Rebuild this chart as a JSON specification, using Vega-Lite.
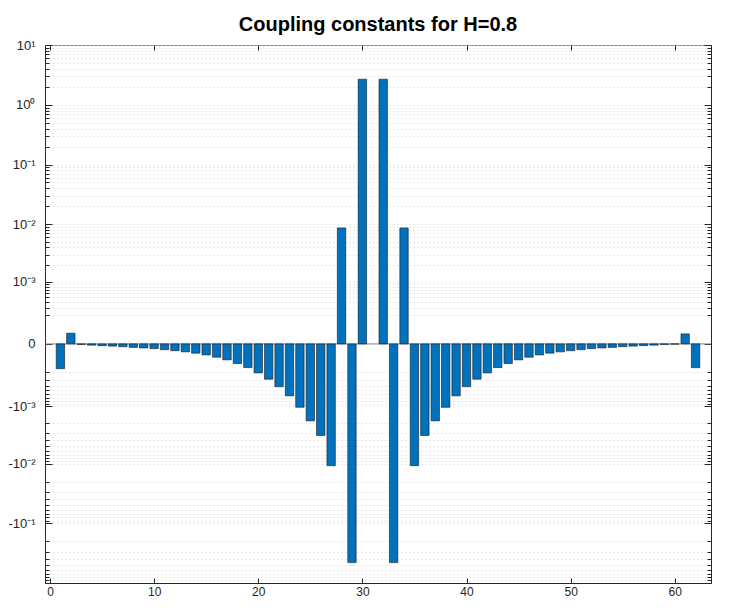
{
  "$schema": "https://vega.github.io/schema/vega-lite/v6.json",
  "width": 666,
  "height": 538,
  "autosize": {"type": "none"},
  "padding": {"left": 45, "top": 45, "right": 37, "bottom": 28},
  "background": "white",
  "title": {"text": "Coupling constants for H=0.8", "fontSize": 20, "font": "Liberation Sans", "fontWeight": "bold", "color": "#000000", "anchor": "middle", "baseline": "alphabetic", "offset": -12},
  "config": {
    "view": {"stroke": "#8a8a8a", "strokeWidth": 1},
    "axis": {"labelFont": "Liberation Sans", "labelFontSize": 12, "labelColor": "#262626", "tickColor": "#262626", "domainColor": "#262626", "gridColor": "#d2d2d2", "gridDash": [1, 3], "gridWidth": 1, "title": null}
  },
  "datasets": {
    "bars": [
      {"n": 1, "v": -0.00016}, {"n": 2, "v": 0.000051}, {"n": 3, "v": -0.000002}, {"n": 4, "v": -0.000005},
      {"n": 5, "v": -0.000007}, {"n": 6, "v": -0.000009}, {"n": 7, "v": -0.0000115}, {"n": 8, "v": -0.0000145},
      {"n": 9, "v": -0.000017}, {"n": 10, "v": -0.00002}, {"n": 11, "v": -0.000025}, {"n": 12, "v": -0.00003},
      {"n": 13, "v": -0.000036}, {"n": 14, "v": -0.000043}, {"n": 15, "v": -0.000053}, {"n": 16, "v": -0.000067},
      {"n": 17, "v": -0.000085}, {"n": 18, "v": -0.000113}, {"n": 19, "v": -0.000149}, {"n": 20, "v": -0.000206},
      {"n": 21, "v": -0.00029}, {"n": 22, "v": -0.00042}, {"n": 23, "v": -0.00064}, {"n": 24, "v": -0.00105},
      {"n": 25, "v": -0.00184}, {"n": 26, "v": -0.0033}, {"n": 27, "v": -0.0108}, {"n": 28, "v": 0.0086},
      {"n": 29, "v": -0.456}, {"n": 30, "v": 2.68}, {"n": 32, "v": 2.68}, {"n": 33, "v": -0.456},
      {"n": 34, "v": 0.0086}, {"n": 35, "v": -0.0108}, {"n": 36, "v": -0.0033}, {"n": 37, "v": -0.00184},
      {"n": 38, "v": -0.00105}, {"n": 39, "v": -0.00064}, {"n": 40, "v": -0.00042}, {"n": 41, "v": -0.00029},
      {"n": 42, "v": -0.000206}, {"n": 43, "v": -0.000149}, {"n": 44, "v": -0.000113}, {"n": 45, "v": -0.000085},
      {"n": 46, "v": -0.000067}, {"n": 47, "v": -0.000053}, {"n": 48, "v": -0.000043}, {"n": 49, "v": -0.000036},
      {"n": 50, "v": -0.00003}, {"n": 51, "v": -0.000025}, {"n": 52, "v": -0.00002}, {"n": 53, "v": -0.000017},
      {"n": 54, "v": -0.0000145}, {"n": 55, "v": -0.0000115}, {"n": 56, "v": -0.000009}, {"n": 57, "v": -0.000007},
      {"n": 58, "v": -0.000005}, {"n": 59, "v": -0.000002}, {"n": 60, "v": -0.000001}, {"n": 61, "v": 0.000047},
      {"n": 62, "v": -0.00015}
    ],
    "zero": [{"v": 0}]
  },
  "resolve": {"axis": {"y": "independent", "x": "independent"}},
  "layer": [
    {
      "data": {"name": "zero"},
      "mark": {"type": "rule", "color": "#8c8c8c", "strokeWidth": 1},
      "encoding": {
        "y": {"field": "v", "type": "quantitative",
          "scale": {"type": "symlog", "constant": 0.0001, "domain": [-1, 10], "nice": false, "zero": false},
          "axis": {"orient": "left", "values": [10, 1, 0.1, 0.01, 0.001, 0, -0.001, -0.01, -0.1], "tickSize": -7, "labelPadding": 17, "labelFontSize": 13, "grid": true, "domain": true,
            "labelExpr": "datum.value == 0 ? '0' : (datum.value < 0 ? '-' : '') + '10' + ['⁻³','⁻²','⁻¹','⁰','¹'][round(log(abs(datum.value))/LN10) + 3]"}}
      }
    },
    {
      "data": {"name": "bars"},
      "mark": {"type": "bar", "color": "#0072BD", "stroke": "#1a1a1a", "strokeWidth": 0.6, "size": 8.4},
      "encoding": {
        "x": {"field": "n", "type": "quantitative", "scale": {"domain": [0, 63], "nice": false, "zero": false},
          "axis": {"orient": "bottom", "values": [0, 10, 20, 30, 40, 50, 60], "tickSize": -5, "labelPadding": 8, "grid": false, "domain": true}},
        "y": {"field": "v", "type": "quantitative",
          "axis": {"orient": "left", "values": [0.0002, 0.0003, 0.0004, 0.0005, 0.0006, 0.0007, 0.0008, 0.0009, 0.002, 0.003, 0.004, 0.005, 0.006, 0.007, 0.008, 0.009, 0.02, 0.03, 0.04, 0.05, 0.06, 0.07, 0.08, 0.09, 0.2, 0.3, 0.4, 0.5, 0.6, 0.7, 0.8, 0.9, 2, 3, 4, 5, 6, 7, 8, 9, -0.0002, -0.0003, -0.0004, -0.0005, -0.0006, -0.0007, -0.0008, -0.0009, -0.002, -0.003, -0.004, -0.005, -0.006, -0.007, -0.008, -0.009, -0.02, -0.03, -0.04, -0.05, -0.06, -0.07, -0.08, -0.09, -0.2, -0.3, -0.4, -0.5, -0.6, -0.7, -0.8, -0.9],
            "tickSize": -4, "labels": false, "grid": true, "domain": false}}
      }
    },
    {
      "data": {"name": "zero"},
      "mark": {"type": "rule", "opacity": 0},
      "encoding": {
        "y": {"field": "v", "type": "quantitative",
          "axis": {"orient": "right", "values": [10, 1, 0.1, 0.01, 0.001, 0, -0.001, -0.01, -0.1], "tickSize": -7, "labels": false, "grid": false, "domain": true}}
      }
    },
    {
      "data": {"name": "bars"},
      "mark": {"type": "bar", "opacity": 0, "size": 8.4},
      "encoding": {
        "x": {"field": "n", "type": "quantitative",
          "axis": {"orient": "top", "values": [0, 10, 20, 30, 40, 50, 60], "tickSize": -5, "labels": false, "grid": false, "domain": false}},
        "y": {"field": "v", "type": "quantitative",
          "axis": {"orient": "right", "values": [0.0002, 0.0003, 0.0004, 0.0005, 0.0006, 0.0007, 0.0008, 0.0009, 0.002, 0.003, 0.004, 0.005, 0.006, 0.007, 0.008, 0.009, 0.02, 0.03, 0.04, 0.05, 0.06, 0.07, 0.08, 0.09, 0.2, 0.3, 0.4, 0.5, 0.6, 0.7, 0.8, 0.9, 2, 3, 4, 5, 6, 7, 8, 9, -0.0002, -0.0003, -0.0004, -0.0005, -0.0006, -0.0007, -0.0008, -0.0009, -0.002, -0.003, -0.004, -0.005, -0.006, -0.007, -0.008, -0.009, -0.02, -0.03, -0.04, -0.05, -0.06, -0.07, -0.08, -0.09, -0.2, -0.3, -0.4, -0.5, -0.6, -0.7, -0.8, -0.9],
            "tickSize": -4, "labels": false, "grid": false, "domain": false}}
      }
    }
  ]
}
